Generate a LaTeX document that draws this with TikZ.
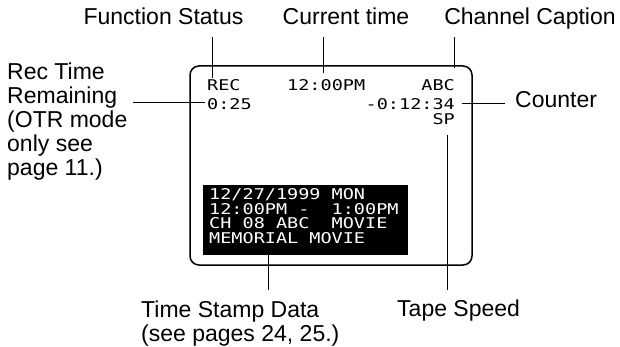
\documentclass[tikz,border=0pt]{standalone}
\usepackage{fontspec}
\setmainfont{Liberation Sans}
\newfontfamily\osdfont[FakeStretch=1.25]{DejaVu Sans Mono}
\begin{document}
\begin{tikzpicture}[x=1pt,y=-1pt,
  lbl/.style={inner sep=0pt, font=\fontsize{23}{24}\selectfont},
  osd/.style={inner sep=0pt, font=\fontsize{14.8}{14.8}\osdfont},
  lead/.style={line width=0.9pt},
]
\useasboundingbox (0,0) rectangle (620,347);

% screen frame and time stamp box
\node[draw, line width=1.5pt, rounded corners=9pt, minimum width=282pt, minimum height=199pt, inner sep=0pt] (screen) at (331,165.5) {};
\node[fill=black, minimum width=205pt, minimum height=70pt, inner sep=0pt] (tsbox) at (305.5,220) {};

% on-screen texts
\node[osd, anchor=base west] (rec) at (207,91) {REC};
\node[osd, anchor=base west] (now) at (287,91) {12:00PM};
\node[osd, anchor=base east] (abc) at (455,91) {ABC};
\node[osd, anchor=base west] (remain) at (207,110) {0:25};
\node[osd, anchor=base east] (count) at (455,110) {-0:12:34};
\node[osd, anchor=base east] (sp) at (455,125) {SP};

\node[osd, text=white, anchor=base west] (ts1) at (209,200) {12/27/1999~MON};
\node[osd, text=white, anchor=base west] (ts2) at (209,214.5) {12:00PM~-~~1:00PM};
\node[osd, text=white, anchor=base west] (ts3) at (209,229) {CH~08~ABC~~MOVIE};
\node[osd, text=white, anchor=base west] (ts4) at (209,243.5) {MEMORIAL~MOVIE};

% labels
\node[lbl, anchor=base] (fs) at (163.5,25) {Function Status};
\node[lbl, anchor=base] (ct) at (346,25) {Current time};
\node[lbl, anchor=base] (cc) at (530,25) {Channel Caption};
\node[lbl, anchor=base west] (rtr) at (7,80) {\begin{tabular}[t]{@{}l@{}}Rec Time\\Remaining\\(OTR mode\\only see\\page 11.)\end{tabular}};
\node[lbl, anchor=base west] (ctr) at (515,108) {Counter};
\node[lbl, anchor=base west] (tsd) at (141,317) {\begin{tabular}[t]{@{}l@{}}Time Stamp Data\\(see pages 24, 25.)\end{tabular}};
\node[lbl, anchor=base west] (tape) at (397,316) {Tape Speed};

% leader ends
\coordinate (fsT) at (212,37);  \coordinate (fsB) at (212,78);
\coordinate (ctT) at (323,37);  \coordinate (ctB) at (323,73);
\coordinate (ccT) at (454,37);  \coordinate (ccB) at (454,68);
\coordinate (rtL) at (133,102); \coordinate (rtR) at (205,102);
\coordinate (coL) at (462,103); \coordinate (coR) at (505,103);
\coordinate (spT) at (447,135); \coordinate (spB) at (447,290);
\coordinate (tsT) at (268,254); \coordinate (tsB) at (268,290);

\draw[lead] (fsT) -- (fsB);
\draw[lead] (ctT) -- (ctB);
\draw[lead] (ccT) -- (ccB);
\draw[lead] (rtL) -- (rtR);
\draw[lead] (coL) -- (coR);
\draw[lead] (spT) -- (spB);
\draw[lead] (tsT) -- (tsB);
\end{tikzpicture}
\end{document}
